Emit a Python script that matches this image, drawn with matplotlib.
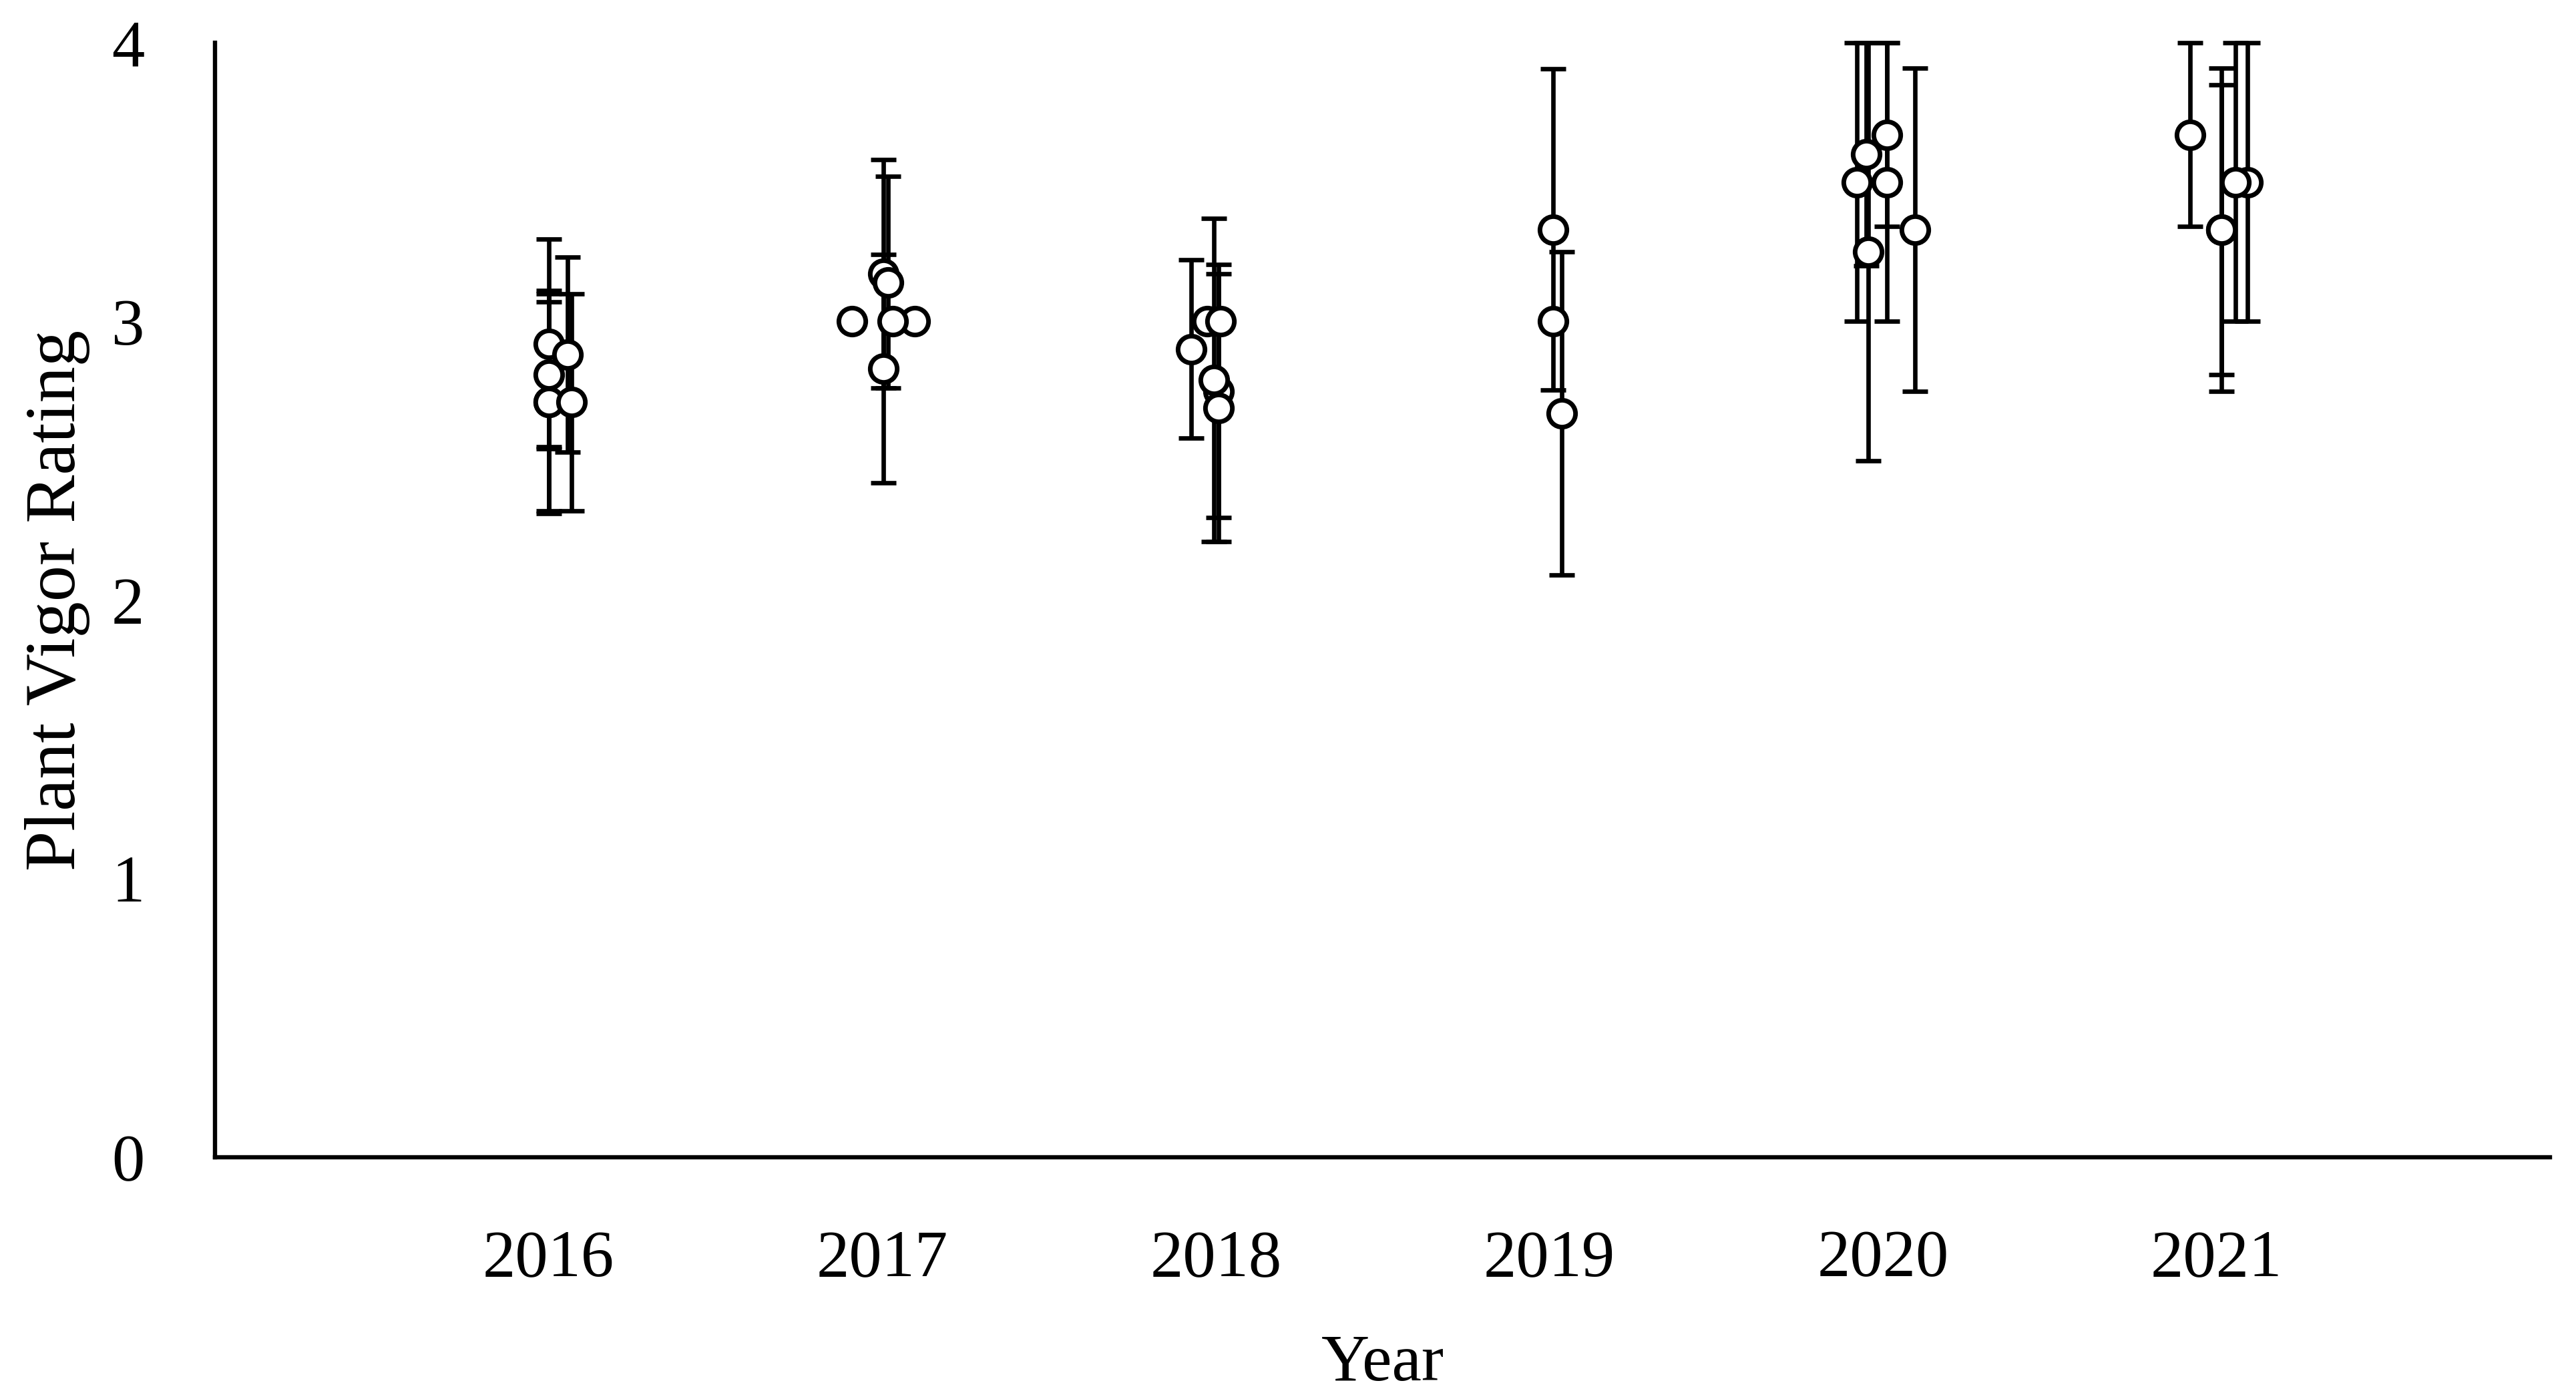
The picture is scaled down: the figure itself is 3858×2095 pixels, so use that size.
import matplotlib
matplotlib.use("Agg")
import matplotlib.pyplot as plt
import numpy as np

# ---- data ----
years = [2016, 2017, 2018, 2019, 2020, 2021]

pt_year = [2016, 2016, 2016, 2016, 2016, 2016,
           2017, 2017, 2017, 2017, 2017, 2017,
           2018, 2018, 2018, 2018, 2018, 2018,
           2019, 2019, 2019,
           2020, 2020, 2020, 2020, 2020, 2020,
           2021, 2021, 2021, 2021, 2021]
# small horizontal jitter used in the original figure (in year units)
pt_jitter = [0.0, 0.0, 0.0, 0.0, 0.057, 0.068,
             0.004, 0.018, 0.004, -0.090, 0.098, 0.032,
             -0.074, -0.026, 0.014, 0.008, -0.006, 0.008,
             0.011, 0.011, 0.037,
             0.013, -0.077, -0.050, 0.013, 0.097, -0.043,
             -0.079, 0.015, 0.015, 0.094, 0.057]
pt_mean = [2.92, 2.81, 2.71, 2.71, 2.88, 2.71,
           3.17, 3.14, 2.83, 3.00, 3.00, 3.00,
           2.90, 3.00, 3.00, 2.75, 2.79, 2.69,
           3.33, 3.00, 2.67,
           3.67, 3.50, 3.60, 3.50, 3.33, 3.25,
           3.67, 3.33, 3.33, 3.50, 3.50]
pt_err = [0.376, 0.26, 0.40, 0.39, 0.35, 0.39,
          0.41, 0.38, 0.41, 0.0, 0.0, 0.0,
          0.32, 0.0, 0.0, 0.455, 0.58, 0.48,
          0.577, 0.0, 0.58,
          0.33, 0.50, 0.40, 0.50, 0.58, 0.75,
          0.33, 0.58, 0.52, 0.50, 0.50]

y_ticks = [0, 1, 2, 3, 4]

# ---- figure ----
plt.rcParams['font.family'] = ['Liberation Serif', 'DejaVu Serif']
fig = plt.figure(figsize=(38.58, 20.95), dpi=100)
ax = fig.add_axes([322/3858, 1 - 1733/2095, (3819-322)/3858, (1733-64)/2095])

x = np.array(pt_year, dtype=float) + np.array(pt_jitter)
y = np.array(pt_mean)
e = np.array(pt_err)

has_err = e > 0
ax.errorbar(x[has_err], y[has_err], yerr=e[has_err], fmt='none', ecolor='black',
            elinewidth=4.8, capsize=13.5, capthick=4.8, zorder=2, clip_on=False)
ax.plot(x, y, linestyle='none', marker='o', markersize=29, markerfacecolor='white',
        markeredgecolor='black', markeredgewidth=5, zorder=3, clip_on=False)

ax.set_xlim(2015, 2022)
ax.set_ylim(0, 4)
ax.set_xticks(years)
ax.set_xticklabels([str(v) for v in years])
ax.set_yticks(y_ticks)
ax.set_yticklabels([str(v) for v in y_ticks])
ax.tick_params(axis='both', length=0, labelsize=71)
ax.tick_params(axis='x', pad=78)
ax.tick_params(axis='y', pad=76)

for s in ['top', 'right']:
    ax.spines[s].set_visible(False)
for s in ['left', 'bottom']:
    ax.spines[s].set_linewidth(4.6)
    ax.spines[s].set_color('black')

ax.set_xlabel('Year', fontsize=72, va='center')
ax.xaxis.set_label_coords(0.5, (1733 - 2043) / 1669)
ax.set_ylabel('Plant Vigor Rating', fontsize=78, va='center')
ax.yaxis.set_label_coords((86 - 322) / 3497, 0.5)

fig.savefig('out.png', dpi=100)
